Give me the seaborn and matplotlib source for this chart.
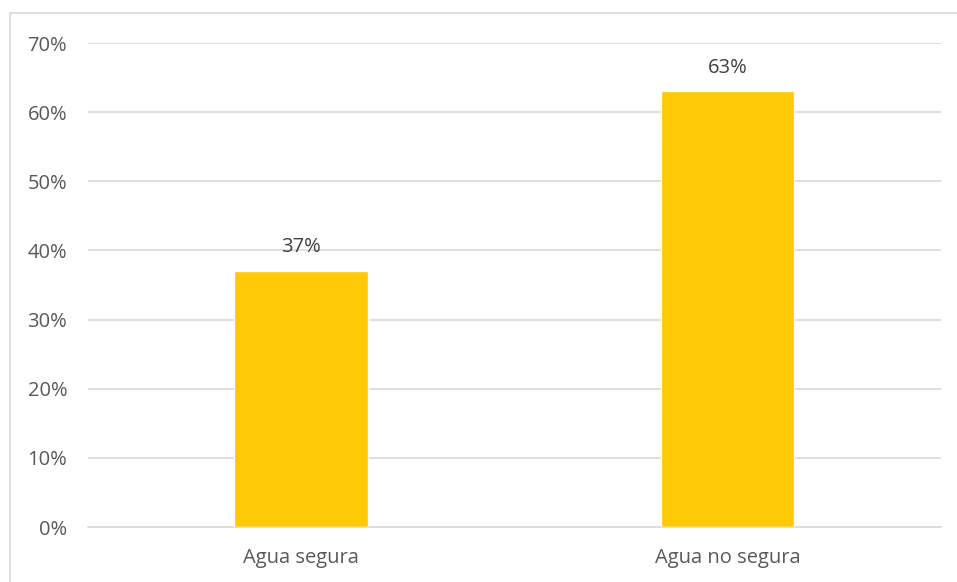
import matplotlib
matplotlib.use("Agg")
import matplotlib.pyplot as plt
import seaborn as sns
import pandas as pd
from matplotlib.patches import Rectangle

categories = ["Agua segura", "Agua no segura"]
values = [37, 63]
yticks = [0, 10, 20, 30, 40, 50, 60, 70]
ytick_labels = ["0%", "10%", "20%", "30%", "40%", "50%", "60%", "70%"]

sns.set_theme(style="white")
plt.rcParams['font.family'] = ['Open Sans', 'DejaVu Sans']

df = pd.DataFrame({"cat": categories, "val": values})

fig = plt.figure(figsize=(9.57, 5.82), dpi=100)
ax = fig.add_axes([0.092, 0.0945, 0.891, 0.8315])

sns.barplot(data=df, x="cat", y="val", color="#FFC908", saturation=1, width=0.314, ax=ax, zorder=3)

ax.set_ylim(0, 70)
ax.set_xlim(-0.5, 1.5)
ax.set_yticks(yticks)
ax.set_yticklabels(ytick_labels)
ax.yaxis.grid(True, color="#D9D9D9", linewidth=1.2, zorder=0)
ax.set_axisbelow(True)
for s in ["top", "right", "left"]:
    ax.spines[s].set_visible(False)
ax.spines["bottom"].set_color("#D9D9D9")
ax.spines["bottom"].set_linewidth(1.2)
ax.tick_params(axis="both", length=0, labelsize=14.5, labelcolor="#595959")
ax.tick_params(axis="y", pad=15)
ax.tick_params(axis="x", pad=15)
ax.set_xlabel("")
ax.set_ylabel("")

for i, v in enumerate(values):
    ax.annotate(f"{v}%", (i, v), xytext=(0, 10), textcoords="offset points",
                ha="center", va="bottom", fontsize=14.5, color="#404040")

fig.patches.append(Rectangle((9.5/957, -0.1), 1.2, 1.1 - 12.5/582, transform=fig.transFigure,
                             fill=False, edgecolor="#D9D9D9", linewidth=1.2))

fig.savefig("out.png", dpi=100)
